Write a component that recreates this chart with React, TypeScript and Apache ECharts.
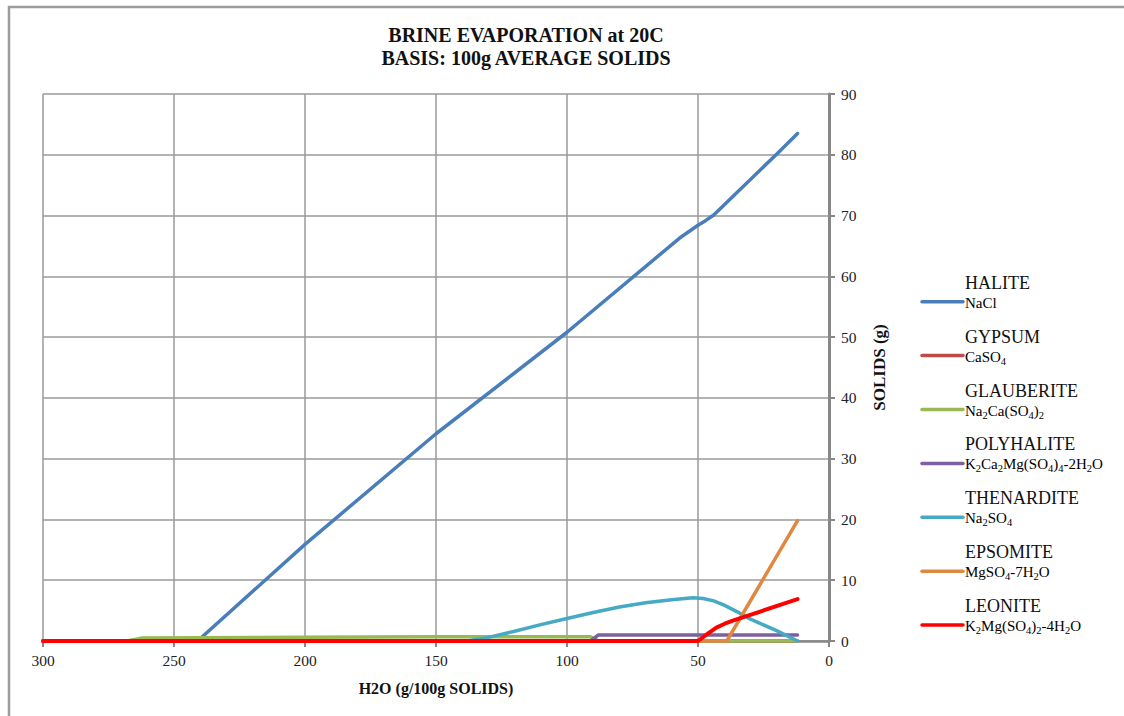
import React, { useEffect, useRef } from "react";
import * as echarts from "echarts";

// Water remaining (g per 100 g solids) vs. solids precipitated (g)
const halite: [number, number][] = [
  [300, 0], [241, 0], [200, 15.9], [150, 34.1], [100, 50.8], [57, 66.3], [50, 68.4], [47, 69.2], [44, 70.1], [20, 80.1], [12, 83.5],
];
const gypsum: [number, number][] = [[300, 0], [12, 0]];
const glauberite: [number, number][] = [
  [300, 0], [268, 0], [262, 0.5], [200, 0.6], [150, 0.7], [91, 0.7], [88, 0], [12, 0],
];
const polyhalite: [number, number][] = [[300, 0], [91, 0], [88, 1.0], [12, 1.0]];
const thenardite: [number, number][] = [
  [300, 0], [138, 0], [130, 0.6], [120, 1.6], [110, 2.7], [100, 3.7], [90, 4.7], [80, 5.6], [70, 6.3],
  [60, 6.8], [52, 7.1], [48, 7.0], [44, 6.6], [40, 5.9], [35, 4.8], [30, 3.6], [20, 1.7], [12, 0],
];
const epsomite: [number, number][] = [[300, 0], [39, 0], [12, 19.8]];
const leonite: [number, number][] = [
  [300, 0], [50, 0], [46, 1.3], [43, 2.2], [40, 2.8], [37, 3.3], [12, 6.9],
];

const mineralNames = ["HALITE", "GYPSUM", "GLAUBERITE", "POLYHALITE", "THENARDITE", "EPSOMITE", "LEONITE"];
// "_n" marks a subscript digit
const formulas = [
  "NaCl",
  "CaSO_4",
  "Na_2Ca(SO_4)_2",
  "K_2Ca_2Mg(SO_4)_4-2H_2O",
  "Na_2SO_4",
  "MgSO_4-7H_2O",
  "K_2Mg(SO_4)_2-4H_2O",
];
const seriesData = [halite, gypsum, glauberite, polyhalite, thenardite, epsomite, leonite];
const colors = ["#4A7EBB", "#BE4B48", "#98B954", "#7D60A0", "#46AAC5", "#E0883F", "#FF0000"];

const xTickInterval = 50;
const yTickInterval = 10;

const SERIF = "'Liberation Serif', 'Times New Roman', serif";

function toRich(formula: string): string {
  const parts = formula.split(/_(\d)/);
  return parts
    .map((p, i) => (p === "" ? "" : i % 2 === 1 ? `{s|${p}}` : `{f|${p}}`))
    .join("");
}

export default function App() {
  const ref = useRef<HTMLDivElement>(null);

  useEffect(() => {
    if (!ref.current) return;
    const chart = echarts.init(ref.current, null, { renderer: "svg" });

    const legendX = 922;
    const legendTop = 282.7;
    const legendStep = 53.9;

    const legendGraphics: any[] = [];
    mineralNames.forEach((name, i) => {
      const yName = legendTop + legendStep * i;
      const yFormula = yName + 19;
      legendGraphics.push({
        type: "line",
        shape: { x1: legendX, y1: yFormula, x2: legendX + 41, y2: yFormula },
        style: { stroke: colors[i], lineWidth: 3.5, lineCap: "round" },
      });
      legendGraphics.push({
        type: "text",
        x: legendX + 43,
        y: yName,
        style: {
          text: name,
          font: `18px ${SERIF}`,
          fill: "#111",
          verticalAlign: "middle",
        },
      });
      legendGraphics.push({
        type: "text",
        x: legendX + 43,
        y: yFormula + 1,
        style: {
          text: toRich(formulas[i]),
          verticalAlign: "middle",
          rich: {
            f: { fontFamily: SERIF, fontSize: 15, lineHeight: 20, color: "#111", verticalAlign: "middle" },
            s: { fontFamily: SERIF, fontSize: 10.5, lineHeight: 10, color: "#111", verticalAlign: "bottom" },
          },
        },
      });
    });

    chart.setOption({
      animation: false,
      backgroundColor: "#fff",
      title: {
        text: "BRINE EVAPORATION at 20C\nBASIS: 100g AVERAGE SOLIDS",
        left: 521,
        top: 18,
        textAlign: "center",
        textStyle: {
          fontFamily: SERIF,
          fontWeight: "bold",
          fontSize: 20,
          lineHeight: 23,
          color: "#111",
        },
      },
      grid: { left: 43, right: 295, top: 94, bottom: 75, containLabel: false },
      xAxis: {
        type: "value",
        inverse: true,
        min: 0,
        max: 300,
        interval: xTickInterval,
        name: "H2O (g/100g SOLIDS)",
        nameLocation: "middle",
        nameGap: 39,
        nameTextStyle: { fontFamily: SERIF, fontWeight: "bold", fontSize: 16, color: "#111" },
        axisLine: { show: true, onZero: false, lineStyle: { color: "#878787", width: 2.5 } },
        axisTick: { show: true, inside: false, length: 6, lineStyle: { color: "#878787", width: 2 } },
        axisLabel: { fontFamily: SERIF, fontSize: 15.5, color: "#222", margin: 11 },
        splitLine: { show: true, lineStyle: { color: "#9A9A9A", width: 1.5 } },
      },
      yAxis: {
        type: "value",
        position: "right",
        min: 0,
        max: 90,
        interval: yTickInterval,
        name: "SOLIDS (g)",
        nameLocation: "middle",
        nameGap: 42,
        nameRotate: 90,
        nameTextStyle: { fontFamily: SERIF, fontWeight: "bold", fontSize: 17, color: "#111" },
        axisLine: { show: true, lineStyle: { color: "#878787", width: 3 } },
        axisTick: { show: true, inside: false, length: 6, lineStyle: { color: "#878787", width: 2 } },
        axisLabel: { fontFamily: SERIF, fontSize: 15.5, color: "#222", margin: 12 },
        splitLine: { show: true, lineStyle: { color: "#9A9A9A", width: 1.5 } },
      },
      series: mineralNames.map((name, i) => ({
        name,
        type: "line",
        data: seriesData[i],
        showSymbol: false,
        symbol: "none",
        smooth: false,
        lineStyle: { color: colors[i], width: i === 6 ? 4 : 3.5, cap: "round", join: "round" },
        z: 3 + i,
      })),
      graphic: [
        {
          type: "rect",
          shape: { x: 9, y: 7, width: 1400, height: 1000 },
          style: { fill: "none", stroke: "#9C9C9C", lineWidth: 2.5 },
          silent: true,
        },
        ...legendGraphics,
      ],
    });

    return () => chart.dispose();
  }, []);

  return (
    <div
      ref={ref}
      style={{ position: "absolute", left: 0, top: 0, width: 1124, height: 716 }}
    />
  );
}
